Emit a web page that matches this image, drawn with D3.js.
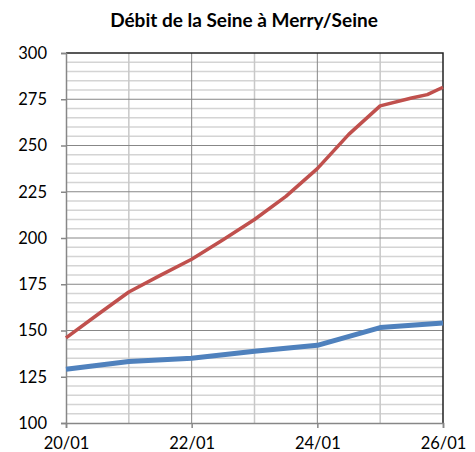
<!DOCTYPE html>
<html><head><meta charset="utf-8">
<script src="https://cdn.jsdelivr.net/npm/d3@7"></script>
<style>
body{margin:0;background:#fff;}
svg{display:block;font-family:Lato,"Open Sans",sans-serif;}
</style></head>
<body><svg id="c" width="475" height="452"></svg>
<script>
const title = "Débit de la Seine à Merry/Seine";
const redDays = [20, 20.5, 21, 21.5, 22, 22.5, 23, 23.5, 24, 24.5, 25, 25.5, 25.75, 26];
const redValues = [146, 158.5, 170.8, 179.8, 188.5, 199, 210, 222.5, 237.5, 256, 271.4, 275.7, 277.5, 281.5];
const blueDays = [20, 21, 22, 23, 24, 25, 26];
const blueValues = [129, 133.3, 135, 138.8, 142, 151.6, 154.1];
const yTicks = [100, 125, 150, 175, 200, 225, 250, 275, 300];
const xTickDays = [20, 22, 24, 26];
const xTickLabels = ["20/01", "22/01", "24/01", "26/01"];

const svg = d3.select("#c");
const L = 66, R = 443, T = 53, B = 423;
const x = d3.scaleLinear().domain([20, 26]).range([L, R]);
const y = d3.scaleLinear().domain([100, 300]).range([B, T]);

// minor horizontal grid
svg.append("g").selectAll("line").data(d3.range(100, 301, 5).filter(v => v % 25 !== 0))
  .join("line").attr("x1", L).attr("x2", R).attr("y1", d => y(d)).attr("y2", d => y(d))
  .attr("stroke", "#d4d4d4").attr("stroke-width", 1.5);
// minor vertical grid
svg.append("g").selectAll("line").data([21, 23, 25])
  .join("line").attr("x1", d => x(d)).attr("x2", d => x(d)).attr("y1", T).attr("y2", B)
  .attr("stroke", "#c8c8c8").attr("stroke-width", 1.5);
// major horizontal grid
svg.append("g").selectAll("line").data(yTicks.filter(v => v > 100 && v < 300))
  .join("line").attr("x1", L).attr("x2", R).attr("y1", d => y(d)).attr("y2", d => y(d))
  .attr("stroke", "#878787").attr("stroke-width", 1);
// major vertical grid
svg.append("g").selectAll("line").data([22, 24])
  .join("line").attr("x1", d => x(d)).attr("x2", d => x(d)).attr("y1", T).attr("y2", B)
  .attr("stroke", "#878787").attr("stroke-width", 1);

// border top/right
svg.append("path").attr("d", `M${L},${T}H${R}V${B}`).attr("fill", "none")
  .attr("stroke", "#222").attr("stroke-width", 1.5);

// axes
const yAxis = d3.axisLeft(y).tickValues(yTicks).tickSize(5).tickPadding(14);
const gy = svg.append("g").attr("transform", `translate(${L},0)`).call(yAxis);
const xAxis = d3.axisBottom(x).tickValues(xTickDays).tickSize(5).tickPadding(9)
  .tickFormat((d, i) => xTickLabels[i]);
const gx = svg.append("g").attr("transform", `translate(0,${B})`).call(xAxis);
[gy, gx].forEach(g => {
  g.select(".domain").attr("stroke", "#878787").attr("stroke-width", 1.5);
  g.selectAll(".tick line").attr("stroke", "#878787").attr("stroke-width", 1.5);
  g.selectAll("text").attr("font-family", "Lato, sans-serif").attr("font-size", 16.5).attr("fill", "#000");
});

const line = d3.line().x(d => x(d[0])).y(d => y(d[1]));
svg.append("path").datum(redDays.map((d, i) => [d, redValues[i]]))
  .attr("d", line).attr("fill", "none").attr("stroke", "#C0504D").attr("stroke-width", 3.5)
  .attr("stroke-linejoin", "round");
svg.append("path").datum(blueDays.map((d, i) => [d, blueValues[i]]))
  .attr("d", line).attr("fill", "none").attr("stroke", "#4F81BD").attr("stroke-width", 5)
  .attr("stroke-linejoin", "round");

svg.append("text").attr("x", 244).attr("y", 27).attr("text-anchor", "middle")
  .attr("font-family", "Lato, sans-serif").attr("font-weight", "bold").attr("font-size", 19)
  .text(title);
</script></body></html>
